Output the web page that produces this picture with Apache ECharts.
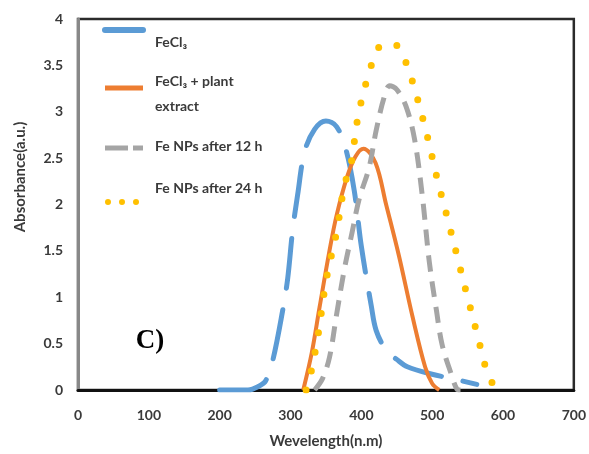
<!DOCTYPE html>
<html>
<head>
<meta charset="utf-8">
<script src="https://cdn.jsdelivr.net/npm/echarts@6/dist/echarts.min.js"></script>
<style>
  html, body { margin: 0; padding: 0; background: #fff; }
  #chart { width: 589px; height: 454px; }
</style>
</head>
<body>
<div id="chart"></div>
<script>
// UV-Vis absorbance spectra: [wavelength (nm), absorbance (a.u.)]
const feCl3 = [
  [200, 0], [240, 0], [255, 0.04], [265, 0.1], [275, 0.32], [289, 0.86], [296, 1.2],
  [303, 1.72], [310, 2.1], [320, 2.57], [334, 2.81], [350, 2.9], [365, 2.84],
  [378, 2.6], [390, 2.15], [400, 1.55], [414, 0.91], [421, 0.64], [435, 0.43],
  [450, 0.33], [465, 0.25], [500, 0.17], [530, 0.12], [563, 0.06]
];
const feCl3Plant = [
  [318, 0], [330, 0.4], [341, 0.89], [355, 1.5], [365, 1.88], [380, 2.3], [392, 2.52],
  [403, 2.6], [420, 2.45], [435, 2.0], [453, 1.45], [472, 0.8], [490, 0.25],
  [500, 0.07], [510, 0]
];
const feNPs12h = [
  [334, 0], [345, 0.12], [355, 0.35], [365, 0.81], [376, 1.3], [387, 1.7], [397, 2.06],
  [411, 2.4], [421, 2.8], [432, 3.15], [440, 3.28], [450, 3.24], [463, 3.06],
  [475, 2.71], [486, 2.1], [496, 1.38], [506, 0.86], [514, 0.49], [527, 0.17],
  [535, 0.01], [540, 0]
];
const feNPs24h = [
  [322, 0], [327, 0.12], [338, 0.55], [351, 1.21], [365, 1.7], [376, 2.2], [386, 2.46],
  [394, 2.89], [407, 3.32], [425, 3.7], [437, 3.73], [449, 3.72], [463, 3.53],
  [472, 3.33], [480, 3.12], [494, 2.71], [507, 2.28], [521, 1.87], [535, 1.45],
  [549, 1.03], [563, 0.62], [577, 0.21], [590, 0]
];

const seriesNames = ['FeCl₃', 'FeCl₃ + plant extract', 'Fe NPs after 12 h', 'Fe NPs after 24 h'];
const seriesColors = ['#5B9BD5', '#ED7D31', '#A5A5A5', '#FFC000'];
const xTicks = { min: 0, max: 700, step: 100 };
const yTicks = { min: 0, max: 4, step: 0.5 };

const font = 'Lato, "Open Sans", sans-serif';
const textColor = '#3a3a3a';
const tickLabel = { color: textColor, fontFamily: font, fontWeight: 'bold', fontSize: 14 };

const chart = echarts.init(document.getElementById('chart'), null, { renderer: 'canvas' });

function line(name, data, color, width, dash, cap) {
  return {
    name: name, type: 'line', data: data, smooth: 0.35, showSymbol: false,
    lineStyle: { color: color, width: width, type: dash, cap: cap || 'butt', join: 'round' },
    z: 3
  };
}

// Legend drawn inside the plot area
const legendLeft = 105, legendRight = 143, textLeft = 155;
const legendText = (txt, y) => ({
  type: 'text', left: textLeft, top: y - 9,
  style: { text: txt, fill: textColor, font: 'bold 14px ' + font }
});

chart.setOption({
  animation: false,
  grid: { left: 78, top: 19, right: 14, bottom: 61, show: true, borderColor: '#2b2b2b', borderWidth: 2.5, backgroundColor: 'transparent' },
  xAxis: {
    type: 'value', min: xTicks.min, max: xTicks.max, interval: xTicks.step,
    name: 'Wevelength(n.m)', nameLocation: 'middle', nameGap: 44,
    nameTextStyle: { color: textColor, fontFamily: font, fontWeight: 'bold', fontSize: 15 },
    axisLine: { show: true, lineStyle: { color: '#111', width: 3 } },
    axisTick: { show: false },
    axisLabel: Object.assign({ margin: 18 }, tickLabel),
    splitLine: { show: false }
  },
  yAxis: {
    type: 'value', min: yTicks.min, max: yTicks.max, interval: yTicks.step,
    axisLine: { show: true, lineStyle: { color: '#888', width: 3 } },
    axisTick: { show: false },
    axisLabel: Object.assign({ margin: 15 }, tickLabel),
    splitLine: { show: false }
  },
  series: [
    line(seriesNames[0], feCl3, seriesColors[0], 5, [50, 22], 'round'),
    line(seriesNames[1], feCl3Plant, seriesColors[1], 4, 'solid'),
    line(seriesNames[2], feNPs12h, seriesColors[2], 5, [16, 10], 'butt'),
    line(seriesNames[3], feNPs24h, seriesColors[3], 7, [0, 19.5], 'round')
  ],
  graphic: [
    // y-axis title
    { type: 'text', x: 20, y: 177, rotation: Math.PI / 2,
      style: { text: 'Absorbance(a.u.)', fill: textColor, font: 'bold 15px ' + font,
               align: 'center', verticalAlign: 'middle' } },
    { type: 'line', shape: { x1: legendLeft, y1: 30, x2: legendRight, y2: 30 },
      style: { stroke: seriesColors[0], lineWidth: 6, lineCap: 'round' } },
    legendText('FeCl₃', 44),
    { type: 'line', shape: { x1: legendLeft, y1: 88, x2: legendRight, y2: 88 },
      style: { stroke: seriesColors[1], lineWidth: 5 } },
    legendText('FeCl₃ + plant', 83),
    legendText('extract', 108),
    { type: 'line', shape: { x1: legendLeft, y1: 148, x2: legendRight, y2: 148 },
      style: { stroke: seriesColors[2], lineWidth: 5, lineDash: [23, 5] } },
    legendText('Fe NPs after 12 h', 148),
    { type: 'line', shape: { x1: 108, y1: 202, x2: 137, y2: 202 },
      style: { stroke: seriesColors[3], lineWidth: 6, lineCap: 'round', lineDash: [0, 14] } },
    legendText('Fe NPs after 24 h', 190),
    { type: 'text', x: 150, y: 341,
      style: { text: 'C)', fill: '#000', font: 'bold 27px "Liberation Serif", "DejaVu Serif", serif',
               align: 'center', verticalAlign: 'middle' } }
  ]
});
</script>
</body>
</html>
